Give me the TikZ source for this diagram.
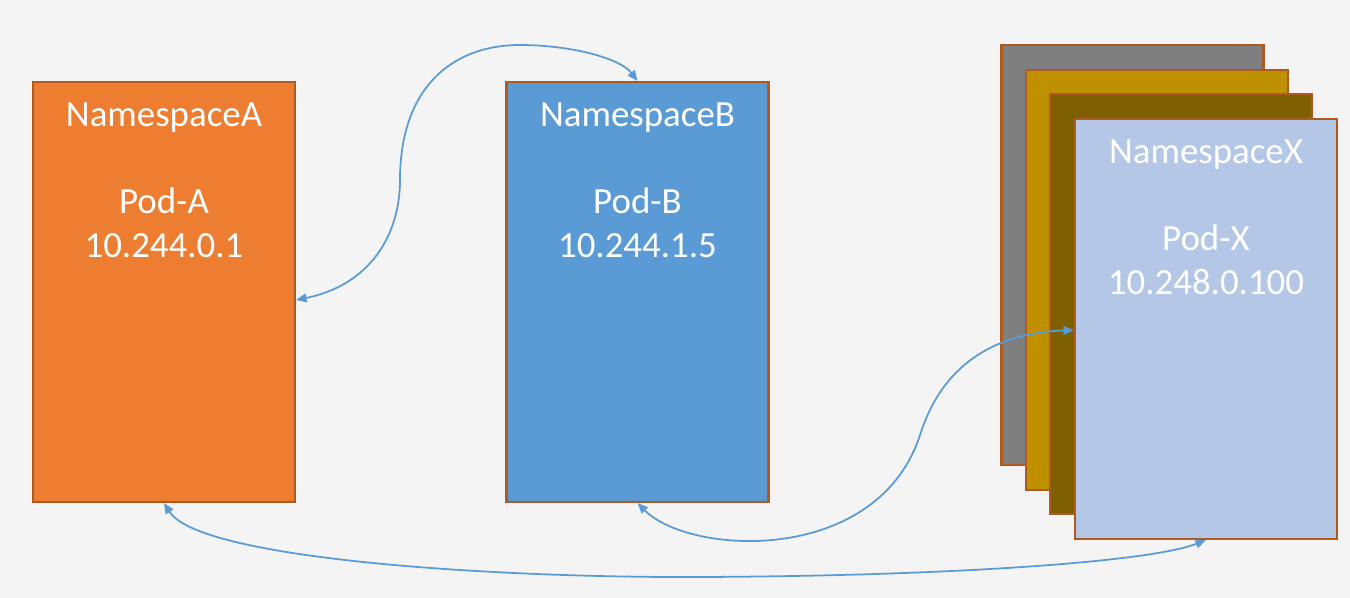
\documentclass[tikz,border=0pt]{standalone}
\usepackage{fontspec}
\setmainfont{Carlito}
\usepackage{xcolor}
\usetikzlibrary{arrows.meta,positioning}

\definecolor{bgcol}{HTML}{F4F4F4}
\definecolor{nsorange}{HTML}{ED7D31}
\definecolor{nsblue}{HTML}{5B9BD5}
\definecolor{nsgray}{HTML}{7F7F7F}
\definecolor{nsgold}{HTML}{BF9000}
\definecolor{nsdark}{HTML}{7F6000}
\definecolor{nslight}{HTML}{B4C7E7}
\definecolor{nsedge}{HTML}{AE5A21}
\definecolor{linkcol}{HTML}{5B9BD5}

\begin{document}
\begin{tikzpicture}[
  x=0.02cm, y=-0.02cm,
  every node/.style={font=\fontsize{21}{25}\selectfont},
  nsbox/.style={draw=nsedge, line width=1.2pt, rectangle,
    minimum width=5.24cm, minimum height=8.4cm, inner sep=0pt},
  lbl/.style={text=white, align=center, inner sep=0pt},
  link/.style={{Triangle[length=6pt,width=5pt]}-{Triangle[length=6pt,width=5pt]},
    draw=linkcol, line width=1pt}
]
\useasboundingbox (0,0) rectangle (1350,598);
\fill[bgcol] (0,0) rectangle (1350,598);

% Namespaces
\node[nsbox, fill=nsorange] (A) at (164,292) {};
\node[nsbox, fill=nsblue] (B) at (637.5,292) {};
\node[nsbox, fill=nsgray] (X3) at (1132.5,255) {};
\node[nsbox, fill=nsgold] (X2) at (1157,280) {};
\node[nsbox, fill=nsdark] (X1) at (1181,304) {};
\node[nsbox, fill=nslight] (X) at (1206,329) {};

% Labels
\node[lbl, below=0.42cm of A.north] (Atitle) {NamespaceA};
\node[lbl, below=1.72cm of Atitle.north] (Apod) {Pod-A\\10.244.0.1};
\node[lbl, below=0.42cm of B.north] (Btitle) {NamespaceB};
\node[lbl, below=1.72cm of Btitle.north] (Bpod) {Pod-B\\10.244.1.5};
\node[lbl, below=0.42cm of X.north] (Xtitle) {NamespaceX};
\node[lbl, below=1.72cm of Xtitle.north] (Xpod) {Pod-X\\10.248.0.100};

% Links
\coordinate (Aside) at ([yshift=-0.16cm]A.east);
\coordinate (Xside) at (X.west |- 0,330);
\draw[link] (Aside) .. controls (370,285) and (400,235) .. (400,180)
  .. controls (400,90) and (450,45) .. (520,45)
  .. controls (570,45) and (620,58) .. (B.north);
\draw[link] (B.south) .. controls (690,556) and (880,566) .. (921,432)
  .. controls (945,360) and (1000,333) .. (Xside);
\draw[link] (A.south) .. controls (200,560) and (500,578) .. (700,577)
  .. controls (950,576) and (1150,562) .. (X.south);
\end{tikzpicture}
\end{document}
